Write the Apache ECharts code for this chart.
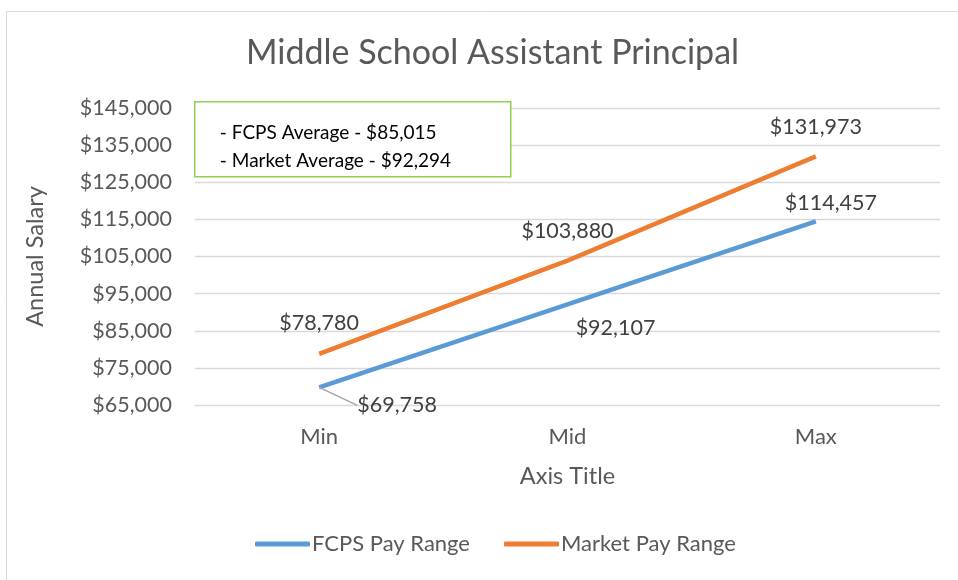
<!DOCTYPE html>
<html>
<head>
<meta charset="utf-8">
<script src="https://cdn.jsdelivr.net/npm/echarts@6/dist/echarts.min.js"></script>
<style>
  html, body { margin: 0; padding: 0; background: #fff; }
  #main { width: 958px; height: 580px; }
</style>
</head>
<body>
<div id="main"></div>
<script>
var categories = ['Min', 'Mid', 'Max'];
var fcpsPay = [69758, 92107, 114457];
var marketPay = [78780, 103880, 131973];
var notes = [' - FCPS Average - $85,015', ' - Market Average - $92,294'];

var font = 'Lato';

function money(v) {
    return '$' + v.toLocaleString('en-US');
}

// label nudges per point, roughly where Excel put them
var fcpsPos = ['bottom', 'bottom', 'top'];
var fcpsShift = [[78, 2], [48, 8], [15, -2]];
var marketShift = [[0, -15], [0, -14], [0, -13]];

function toData(values, pos) {
    return values.map(function (v, i) {
        return pos ? {value: v, label: {position: pos[i]}} : v;
    });
}

function shiftBy(list) {
    return function (p) {
        var s = list[p.dataIndex];
        return {dx: s[0], dy: s[1]};
    };
}

var chart = echarts.init(document.getElementById('main'));

var option = {
    backgroundColor: '#fff',
    textStyle: {fontFamily: font},
    title: {
        text: 'Middle School Assistant Principal',
        left: 241,
        top: 31,
        textStyle: {fontFamily: font, fontSize: 34, fontWeight: 'normal', color: '#595959'}
    },
    legend: {
        bottom: 20,
        left: 250,
        itemWidth: 55,
        itemHeight: 5,
        itemGap: 34,
        icon: 'roundRect',
        textStyle: {fontFamily: font, fontSize: 22, color: '#595959', padding: [0, 0, 0, -3]},
        data: ['FCPS Pay Range', 'Market Pay Range']
    },
    grid: {left: 195, right: 18, top: 108, bottom: 175},
    xAxis: {
        type: 'category',
        data: categories,
        name: 'Axis Title',
        nameLocation: 'middle',
        nameGap: 59,
        nameTextStyle: {fontFamily: font, fontSize: 23.5, color: '#595959'},
        axisLine: {show: false},
        axisTick: {show: false},
        axisLabel: {margin: 21, fontFamily: font, fontSize: 22, color: '#595959'}
    },
    yAxis: {
        type: 'value',
        min: 65000,
        max: 145000,
        interval: 10000,
        name: 'Annual Salary',
        nameLocation: 'middle',
        nameGap: 148,
        nameTextStyle: {fontFamily: font, fontSize: 23.5, color: '#595959'},
        axisLine: {show: false},
        axisTick: {show: false},
        splitLine: {lineStyle: {color: '#d9d9d9', width: 1.3}},
        axisLabel: {
            margin: 23,
            fontFamily: font,
            fontSize: 21.5,
            color: '#595959',
            formatter: function (v) { return money(v); }
        }
    },
    series: [{
        name: 'FCPS Pay Range',
        type: 'line',
        data: toData(fcpsPay, fcpsPos),
        symbol: 'circle',
        symbolSize: 0.1,
        showSymbol: true,
        color: '#5b9bd5',
        lineStyle: {width: 4.5, color: '#5b9bd5'},
        label: {
            show: true,
            fontFamily: font,
            fontSize: 21.5,
            color: '#404040',
            formatter: function (p) { return money(p.value); }
        },
        labelLine: {show: false, lineStyle: {color: '#a6a6a6', width: 1.5}},
        labelLayout: shiftBy(fcpsShift)
    }, {
        name: 'Market Pay Range',
        type: 'line',
        data: toData(marketPay),
        symbol: 'circle',
        symbolSize: 0.1,
        showSymbol: true,
        color: '#ed7d31',
        lineStyle: {width: 4.5, color: '#ed7d31'},
        label: {
            show: true,
            position: 'top',
            fontFamily: font,
            fontSize: 21.5,
            color: '#404040',
            formatter: function (p) { return money(p.value); }
        },
        labelLayout: shiftBy(marketShift)
    }],
    graphic: [{
        type: 'rect',
        left: 4,
        top: 9,
        shape: {width: 960, height: 600},
        style: {fill: 'none', stroke: '#d9d9d9', lineWidth: 1}
    }, {
        type: 'rect',
        left: 194,
        top: 101,
        shape: {width: 316, height: 75},
        style: {fill: '#fff', stroke: '#92d050', lineWidth: 1.5},
        z: 10
    }, {
        type: 'text',
        left: 215,
        top: 119,
        style: {text: notes.join('\n'), font: '19px ' + font, fill: '#000', lineHeight: 28},
        z: 11
    }]
};

chart.setOption(option);

// leader line on the first FCPS label only, as in the source chart
chart.setOption({
    series: [{
        data: fcpsPay.map(function (v, i) {
            return {
                value: v,
                label: {position: fcpsPos[i]},
                labelLine: {show: i === 0, lineStyle: {color: '#a6a6a6', width: 1.5}}
            };
        })
    }]
});
</script>
</body>
</html>
